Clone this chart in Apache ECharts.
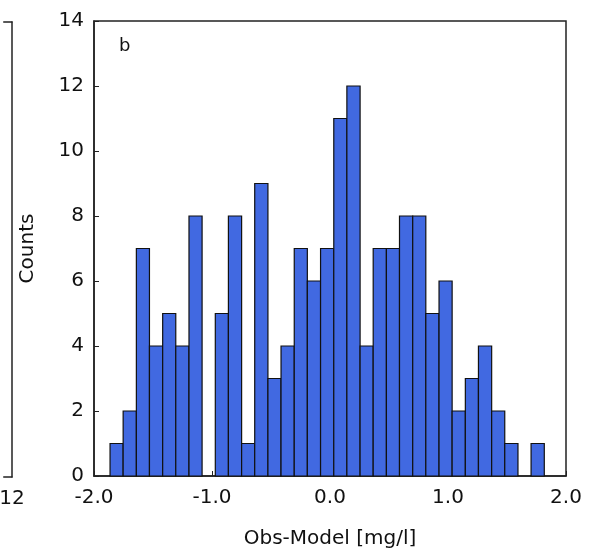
<!DOCTYPE html>
<html>
<head>
<meta charset="utf-8">
<script src="https://cdn.jsdelivr.net/npm/echarts@6/dist/echarts.min.js"></script>
<style>html,body{margin:0;padding:0;background:#fff}#c{width:596px;height:554px}</style>
</head>
<body>
<div id="c"></div>
<script>
// bin edges (mg/l) of the histogram
var binEdges = [-1.864,-1.753,-1.641,-1.530,-1.418,-1.307,-1.195,-1.084,-0.972,-0.861,-0.749,-0.638,-0.526,-0.415,-0.303,-0.192,-0.080,0.032,0.143,0.255,0.366,0.478,0.589,0.701,0.812,0.924,1.035,1.147,1.258,1.370,1.481,1.593,1.704,1.816];
// counts per bin
var counts = [1,2,7,4,5,4,8,0,5,8,1,9,3,4,7,6,7,11,12,4,7,7,8,8,5,6,2,3,4,2,1,0,1];
var xTicks = [-2.0,-1.0,0.0,1.0,2.0];
var yTicks = [0,2,4,6,8,10,12,14];
var panelLabel = 'b';
var xTitle = 'Obs-Model [mg/l]';
var yTitle = 'Counts';
// neighbouring panel (a) fragment: last x tick visible
var leftPanelTicks = [11, 12];

var data = counts.map(function(c,i){ return [binEdges[i], binEdges[i+1], c]; });
var font = 'DejaVu Sans';
var lineCol = '#222';
var chart = echarts.init(document.getElementById('c'));
chart.setOption({
  animation:false,
  grid:[
    {left:94, top:21, width:472, height:456, show:true, borderColor:lineCol, borderWidth:1.5, backgroundColor:'transparent'},
    {left:0, top:22, width:12, height:455, show:false}
  ],
  xAxis:[
    {type:'value', gridIndex:0, min:xTicks[0], max:xTicks[xTicks.length-1], interval:1,
     axisLine:{onZero:false,lineStyle:{color:lineCol,width:1.5}},
     axisTick:{inside:true,length:5,lineStyle:{color:lineCol}},
     splitLine:{show:false},
     axisLabel:{fontFamily:font,fontSize:20,color:'#111',margin:12,formatter:function(v){return v.toFixed(1);}},
     name:xTitle, nameLocation:'middle', nameGap:53,
     nameTextStyle:{fontFamily:font,fontSize:20,color:'#111'}},
    {type:'value', gridIndex:1, min:leftPanelTicks[0], max:leftPanelTicks[1], interval:1,
     axisLine:{onZero:false,lineStyle:{color:lineCol,width:1.5}},
     axisTick:{show:false},
     splitLine:{show:false},
     axisLabel:{fontFamily:font,fontSize:20,color:'#111',margin:12,showMinLabel:false}},
    {type:'value', gridIndex:1, position:'top', min:leftPanelTicks[0], max:leftPanelTicks[1],
     axisLine:{onZero:false,lineStyle:{color:lineCol,width:1.5}},
     axisTick:{show:false}, splitLine:{show:false}, axisLabel:{show:false}}
  ],
  yAxis:[
    {type:'value', gridIndex:0, min:yTicks[0], max:yTicks[yTicks.length-1], interval:2,
     axisLine:{onZero:false,lineStyle:{color:lineCol,width:1.5}},
     axisTick:{inside:true,length:5,lineStyle:{color:lineCol}},
     splitLine:{show:false},
     axisLabel:{fontFamily:font,fontSize:20,color:'#111',margin:10},
     name:yTitle, nameLocation:'middle', nameGap:56,
     nameTextStyle:{fontFamily:font,fontSize:20,color:'#111'}},
    {type:'value', gridIndex:1, min:0, max:14, interval:2, position:'right',
     axisLine:{onZero:false,lineStyle:{color:lineCol,width:1.5}},
     axisTick:{show:false}, splitLine:{show:false}, axisLabel:{show:false}}
  ],
  graphic:[
    {type:'text', left:119, top:37, style:{text:panelLabel, font:'18px "DejaVu Sans"', fill:'#111'}}
  ],
  series:[{
    type:'custom', xAxisIndex:0, yAxisIndex:0,
    encode:{x:[0,1], y:2},
    data:data,
    renderItem:function(params, api){
      var p0 = api.coord([api.value(0), 0]);
      var p1 = api.coord([api.value(1), api.value(2)]);
      if (api.value(2) <= 0) return null;
      return {type:'rect', shape:{x:p0[0], y:p1[1], width:p1[0]-p0[0], height:p0[1]-p1[1]},
        style:{fill:'#4169E1', stroke:'#111', lineWidth:1.2}};
    }
  }]
});
</script>
</body>
</html>
